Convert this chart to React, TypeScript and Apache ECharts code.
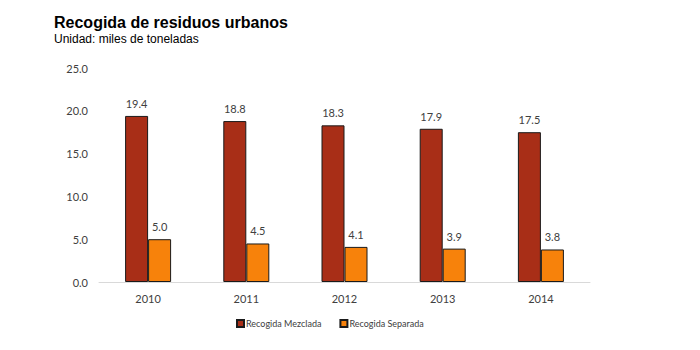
import React, { useEffect, useRef } from "react";
import * as echarts from "echarts";

const categories = ["2010", "2011", "2012", "2013", "2014"];
const mezclada = [19.4, 18.8, 18.3, 17.9, 17.5];
const separada = [5.0, 4.5, 4.1, 3.9, 3.8];
const seriesNames = ["Recogida Mezclada", "Recogida Separada"];

export default function App() {
  const ref = useRef<HTMLDivElement>(null);
  useEffect(() => {
    const chart = echarts.init(ref.current!, null, { renderer: "svg" });
    const labelStyle = {
      show: true,
      position: "top" as const,
      distance: 7,
      fontFamily: "Lato",
      fontSize: 11,
      color: "#404040",
      formatter: (p: any) => Number(p.value).toFixed(1),
    };
    chart.setOption({
      animation: false,
      backgroundColor: "#ffffff",
      title: {
        text: "Recogida de residuos urbanos",
        subtext: "Unidad: miles de toneladas",
        left: 49,
        top: 9,
        itemGap: 3,
        textStyle: { fontFamily: "Liberation Sans", fontSize: 16, fontWeight: "bold", color: "#000" },
        subtextStyle: { fontFamily: "Liberation Sans", fontSize: 12, color: "#000" },
      },
      legend: {
        data: seriesNames,
        bottom: 17,
        left: 231,
        itemWidth: 7,
        itemHeight: 7,
        itemGap: 18,
        icon: "rect",
        textStyle: { fontFamily: "Lato", fontSize: 9, color: "#404040", padding: [0, 0, 0, -3] },
      },
      grid: { left: 99, right: 110, top: 68, bottom: 68, containLabel: false },
      xAxis: {
        type: "category",
        data: categories,
        axisLine: { lineStyle: { color: "#d9d9d9", width: 1 } },
        axisTick: { show: false },
        axisLabel: { fontFamily: "Lato", fontSize: 11, color: "#404040", margin: 11 },
      },
      yAxis: {
        type: "value",
        min: 0,
        max: 25,
        interval: 5,
        axisLine: { show: false },
        axisTick: { show: false },
        splitLine: { show: false },
        axisLabel: {
          fontFamily: "Lato",
          fontSize: 11,
          color: "#404040",
          margin: 11,
          formatter: (v: number) => v.toFixed(1),
        },
      },
      series: [
        {
          name: seriesNames[0],
          type: "bar",
          data: mezclada,
          barWidth: 23,
          barGap: "0%",
          itemStyle: { color: "#A82E17", borderColor: "#1a1a1a", borderWidth: 1 },
          label: labelStyle,
        },
        {
          name: seriesNames[1],
          type: "bar",
          data: separada,
          barWidth: 23,
          barGap: "0%",
          itemStyle: { color: "#F7820B", borderColor: "#1a1a1a", borderWidth: 1 },
          label: labelStyle,
        },
      ],
    });
    return () => chart.dispose();
  }, []);
  return <div ref={ref} style={{ width: 700, height: 350, position: "absolute", left: 0, top: 0 }} />;
}
